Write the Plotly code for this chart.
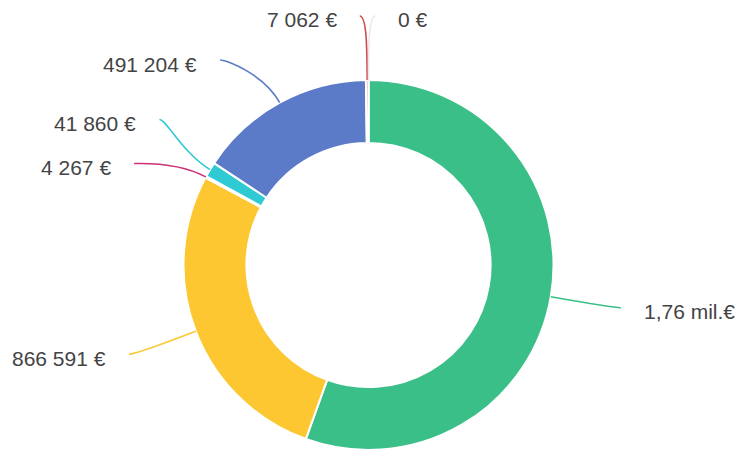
import math
import plotly.graph_objects as go

# slice values, clockwise from 12 o'clock
values = [1760000, 866591, 4267, 41860, 491204, 7062, 0]
value_labels = ["1,76 mil.€", "866 591 €", "4 267 €", "41 860 €",
                "491 204 €", "7 062 €", "0 €"]
colors = ["#3bbf89", "#fcc730", "#c93277", "#2fcad3",
          "#5b7bc9", "#cf4a4f", "#efe4ea"]

W, H = 739, 450
CX, CY, R = 368.5, 265, 185
RING = R + 64      # radius where leader lines bend
LEN2 = 7           # short horizontal leg of the leader line
GAP = 44           # min vertical distance between labels
TEXT_PAD = 21
TOP = CY - RING    # labels never climb above the ring


def px(x, y):
    """pixel -> paper coords"""
    return x / W, 1 - y / H


def spread(items):
    # push overlapping labels apart, keeping each group centred
    items.sort(key=lambda d: d["ny"])
    groups = [[d] for d in items]
    merged = True
    while merged:
        merged = False
        starts = []
        for g in groups:
            mean = sum(d["ny"] for d in g) / len(g)
            starts.append(max(mean - (len(g) - 1) * GAP / 2, TOP))
        for i in range(1, len(groups)):
            if starts[i] < starts[i - 1] + len(groups[i - 1]) * GAP:
                groups[i - 1] += groups.pop(i)
                merged = True
                break
    for g, s in zip(groups, starts):
        for k, d in enumerate(g):
            d["y"] = s + k * GAP


total = sum(values)
items = []
cum = 0
for i, v in enumerate(values):
    th = math.radians(360 * (cum + v / 2) / total)
    cum += v
    s, c = math.sin(th), math.cos(th)
    items.append({
        "i": i, "sin": s, "cos": c,
        "side": -1 if s < -1e-9 else 1,
        "nx": CX + RING * s, "ny": CY - RING * c,
    })

spread([d for d in items if d["side"] < 0])
spread([d for d in items if d["side"] > 0])

shapes, annotations = [], []
for d in items:
    i, side = d["i"], d["side"]
    y = d["y"]
    if abs(y - d["ny"]) > 0.5:
        x1 = CX + side * math.sqrt(max(RING ** 2 - (y - CY) ** 2, 0))
    else:
        x1 = d["nx"]
    x2 = x1 + side * LEN2
    p0 = (CX + R * d["sin"], CY - R * d["cos"])
    c1 = (p0[0] + 32 * d["sin"], p0[1] - 32 * d["cos"])
    pts = [px(*p0), px(*c1), px(x1, y), px(x2, y)]
    path = "M {0[0]},{0[1]} C {1[0]},{1[1]} {2[0]},{2[1]} {3[0]},{3[1]}".format(*pts)
    shapes.append(dict(type="path", xref="paper", yref="paper", path=path,
                       line=dict(color=colors[i], width=1.6)))
    tx, ty = px(x2 + side * TEXT_PAD, y + 4)
    annotations.append(dict(
        x=tx, y=ty, xref="paper", yref="paper", showarrow=False,
        text=value_labels[i], xanchor="left" if side > 0 else "right",
        yanchor="middle",
        font=dict(family="Liberation Sans, Arial, sans-serif", size=21,
                  color="#444444")))

x0, y1 = px(CX - R, CY - R)
x1_, y0 = px(CX + R, CY + R)

fig = go.Figure(go.Pie(
    values=values,
    labels=value_labels,
    hole=0.66,
    sort=False,
    direction="clockwise",
    rotation=0,
    textinfo="none",
    marker=dict(colors=colors, line=dict(color="white", width=2)),
    domain=dict(x=[x0, x1_], y=[max(y0, 0), y1]),
    showlegend=False,
))

fig.update_layout(
    width=W, height=H,
    margin=dict(l=0, r=0, t=0, b=0),
    paper_bgcolor="white",
    shapes=shapes,
    annotations=annotations,
)

# page body has an 8px default margin, drop it so the chart sits at 0,0
fig.write_html("out.html", config={"displayModeBar": False},
               post_script="document.body.style.margin = '0';")
